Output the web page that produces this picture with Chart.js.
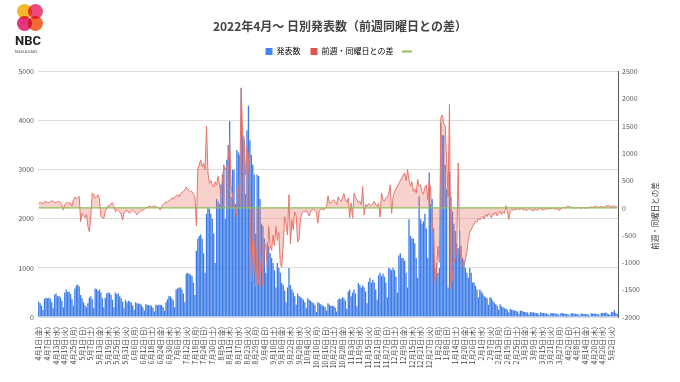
<!DOCTYPE html>
<html><head><meta charset="utf-8">
<script src="https://cdn.jsdelivr.net/npm/chart.js@4.4.1/dist/chart.umd.min.js"></script>
<style>
html,body{margin:0;padding:0;background:#fff;}
#wrap{position:relative;width:680px;height:382px;overflow:hidden;}
#wrap canvas{position:absolute;left:0;top:0;}
.logo{position:absolute;left:14px;top:3px;width:34px;height:50px;}
.c{position:absolute;width:15px;height:15px;border-radius:50%;mix-blend-mode:multiply;}
.nbc{position:absolute;left:1px;top:30px;font:bold 13px Roboto, 'Liberation Sans', sans-serif;color:#222;}
.nag{position:absolute;left:1px;top:46px;font:4px Roboto, sans-serif;color:#444;letter-spacing:0.4px;}
</style></head>
<body>
<div id="wrap">
<canvas id="c" width="680" height="382"></canvas>
<div class="logo">
  <div class="c" style="left:3px;top:1px;background:#F8B62D"></div>
  <div class="c" style="left:14px;top:1px;background:#EC4A7A"></div>
  <div class="c" style="left:3px;top:13px;background:#E4357E"></div>
  <div class="c" style="left:14px;top:13px;background:#F26B35"></div>
  <div class="nbc">NBC</div>
  <div class="nag">NAGASAKI</div>
</div>
</div>
<script>
// ---- data ----
const startDate = [2022, 4, 1];
const weekdayNames = ['日','月','火','水','木','金','土'];
const countLabel = '発表数';
const diffLabel = '前週・同曜日との差';
const counts = [
310,280,230,140,370,390,380,
390,370,300,180,460,480,420,
430,400,330,200,500,560,510,
520,470,360,230,580,640,660,
620,450,380,300,240,200,280,
390,420,360,180,580,570,530,
560,500,380,200,390,480,500,
490,450,350,200,500,470,480,
420,380,310,180,350,300,330,
320,290,240,150,300,280,270,
270,250,200,130,260,250,240,
240,230,190,110,250,240,250,
250,240,200,130,300,360,420,
420,380,340,200,560,580,600,
600,560,480,300,880,900,880,
860,830,700,450,1350,1600,1650,
1680,1600,1300,900,2100,2240,2200,
2100,2000,1700,1100,2400,2350,2300,
2700,2900,3100,2000,3200,3500,3990,
2450,3000,3000,2300,3400,3350,3300,
4650,3700,3620,2500,3800,4300,3600,
3300,3100,2900,1700,2900,2870,2400,
1900,1850,1600,900,1510,1440,1300,
1200,1100,950,600,1100,1000,900,
690,650,540,300,600,1000,650,
560,500,420,250,480,430,400,
380,350,300,180,380,350,330,
300,280,240,100,300,280,260,
240,220,200,130,280,250,230,
230,220,190,110,350,380,360,
400,380,330,170,520,560,420,
500,560,480,220,690,650,600,
640,600,520,280,720,800,700,
760,700,560,350,850,900,830,
880,820,700,400,1000,980,950,
1000,950,820,500,1250,1300,1200,
1200,1150,900,600,1990,1650,1600,
1600,1500,1200,800,2460,1990,1900,
1950,2100,1800,1200,2940,2300,2400,
1800,1000,1100,900,1000,3950,3700,
3700,3100,2600,600,2950,2450,2150,
1900,1750,1500,1400,1750,1450,1200,
1150,1000,900,800,1000,900,700,
700,630,560,400,560,520,480,
420,400,380,250,400,380,330,
290,260,230,150,260,220,200,
180,170,150,90,170,150,140,
130,120,110,60,130,120,110,
100,95,90,50,100,95,90,
85,80,75,40,90,85,80,
75,70,60,35,80,80,75,
70,65,60,30,75,80,70,
65,60,55,30,70,75,70,
65,60,55,30,70,65,60,
60,55,50,25,75,70,65,
70,60,55,30,80,85,80,
90,70,60,40,100,95,135,
80,60
];
const diffs = [
80,100,90,70,110,120,100,90,110,130,
120,100,90,110,120,100,60,-40,60,90,
100,80,90,30,150,200,160,180,210,-250,
-100,-150,-180,-120,-340,-440,-150,270,250,180,
200,240,160,-160,-180,-190,-60,-20,40,30,
80,90,20,-70,-30,-50,-80,-120,-220,-90,
-60,-40,-80,-100,-60,-40,-70,-90,-130,-100,
-70,-40,-50,-20,0,10,20,30,10,20,
40,20,10,0,-40,20,60,90,100,110,
130,150,180,160,200,220,240,200,260,280,
300,330,380,350,320,290,300,250,200,-330,
700,800,880,750,820,700,1500,650,450,500,
420,380,480,420,580,420,270,500,760,700,
760,900,1250,400,200,100,-40,-160,300,500,
2200,1300,1300,600,1130,900,300,-1350,-590,-650,
-1450,-770,-1400,-1200,-900,-1450,-650,-700,-1100,-340,
-700,-780,-500,-700,-340,-600,-450,-1020,-1085,-700,
-160,-300,-500,240,-660,-220,-400,-75,-150,-625,
-590,-200,-100,-60,-80,-40,-100,-150,-60,-40,
-30,-50,-80,-280,-50,-30,-20,-40,-10,20,
220,80,100,120,150,100,60,200,150,120,
180,265,150,100,180,-180,90,-190,270,200,
150,100,120,60,390,-130,60,30,80,50,
40,70,120,60,30,80,-170,270,150,120,
180,200,250,420,-100,200,300,350,400,450,
500,550,600,640,500,700,520,400,480,300,
350,270,520,400,420,300,250,380,420,150,
520,300,-300,-500,-1400,-1200,-700,-1000,1650,1700,
1550,1500,900,200,1900,-1500,-1300,-1000,-900,-800,
820,-700,-1000,-1080,-1050,-950,-800,-600,-450,-400,
-340,-300,-250,-260,-200,-220,-180,-150,-200,-120,
-160,-100,-140,-180,-100,-120,-80,-150,-100,-60,
-120,-80,-100,40,-60,-210,-60,-30,-50,-20,
-40,10,-30,-30,10,-40,-30,-50,-40,-10,
-30,-40,-60,-20,-30,-50,-10,-20,-30,-40,
-10,-30,-20,-10,-20,0,-10,-20,-30,-10,
-50,-20,0,10,-10,20,30,20,10,0,
10,-10,0,10,0,-10,10,0,-10,0,
10,0,20,10,20,30,10,20,10,30,
20,10,30,40,50,20,30,20,40,10,
20
];
const baselineValue = 0;
const leftTicks = {min: 0, max: 5000, step: 1000};
const rightTicks = {min: -2000, max: 2500, step: 500};
const tickEvery = 6;

// categories (dates)
const categories = counts.map((_, i) => {
  const d = new Date(startDate[0], startDate[1]-1, startDate[2] + i);
  return (d.getMonth()+1) + '月' + d.getDate() + '日(' + weekdayNames[d.getDay()] + ')';
});

const FONT = "'Noto Sans CJK JP', 'Noto Sans', sans-serif";
const BLUE = '#3D7CE8', RED = '#E8756B', REDFILL = 'rgba(234,120,110,0.35)', GREEN = '#8CC05A';

const rightTitle = {
  id: 'rightTitle',
  afterDraw(chart) {
    const ctx = chart.ctx;
    ctx.save();
    ctx.translate(655, 216);
    ctx.rotate(-Math.PI/2);
    ctx.font = '7.5px ' + FONT;
    ctx.fillStyle = '#333';
    ctx.textAlign = 'center';
    ctx.textBaseline = 'middle';
    ctx.fillText(diffLabel, 0, 0);
    ctx.restore();
  }
};

const legendSpace = {
  id: 'legendSpace',
  beforeInit(chart) {
    const origFit = chart.legend.fit;
    chart.legend.fit = function() {
      origFit.bind(chart.legend)();
      this.height += 6;
    };
  }
};

new Chart(document.getElementById('c'), {
  data: {
    labels: categories,
    datasets: [
      { type: 'bar', label: countLabel, data: counts, yAxisID: 'y', backgroundColor: BLUE,
        barPercentage: 0.9, categoryPercentage: 1.0, order: 3 },
      { type: 'line', label: diffLabel, data: diffs, yAxisID: 'y1', borderColor: RED, backgroundColor: REDFILL,
        borderWidth: 1, pointRadius: 0, fill: 'origin', tension: 0, order: 2 },
      { type: 'line', label: '', data: [{x: categories[0], y: baselineValue}, {x: categories[categories.length-1], y: baselineValue}],
        yAxisID: 'y1', borderColor: GREEN, borderWidth: 1.2, pointRadius: 0, fill: false, order: 1 }
    ]
  },
  options: {
    responsive: false,
    animation: false,
    devicePixelRatio: 1,
    layout: { padding: { left: 0, right: 0, top: 0, bottom: 0 } },
    plugins: {
      tooltip: { enabled: false },
      title: { display: true, text: '2022年4月～ 日別発表数（前週同曜日との差）', color: '#444',
        font: { family: FONT, size: 12, weight: 'bold' }, padding: { top: 19, bottom: 4 } },
      legend: {
        display: true,
        labels: {
          font: { family: FONT, size: 8 }, color: '#333', usePointStyle: true, boxWidth: 7, boxHeight: 7, padding: 10,
          generateLabels: () => [
            { text: countLabel, fillStyle: '#4285F4', strokeStyle: '#4285F4', lineWidth: 0, pointStyle: 'rect', datasetIndex: 0, hidden: false },
            { text: diffLabel, fillStyle: '#E0554A', strokeStyle: '#E0554A', lineWidth: 0, pointStyle: 'rect', datasetIndex: 1, hidden: false },
            { text: '', fillStyle: GREEN, strokeStyle: GREEN, lineWidth: 2, pointStyle: 'line', datasetIndex: 2, hidden: false }
          ]
        }
      }
    },
    scales: {
      x: {
        type: 'category',
        grid: { display: false },
        border: { display: false },
        afterFit: s => { s.height = 65; },
        ticks: {
          autoSkip: false, maxRotation: 90, minRotation: 90, padding: 2,
          font: { family: FONT, size: 7 }, color: '#444',
          callback: function(v, i) { return i % tickEvery === 0 ? this.getLabelForValue(v) : null; }
        }
      },
      y: {
        position: 'left', min: leftTicks.min, max: leftTicks.max,
        afterFit: s => { s.width = 38; },
        grid: { color: '#dcdcdc', lineWidth: 1, drawTicks: false },
        border: { display: false },
        ticks: { stepSize: leftTicks.step, font: { family: FONT, size: 7 }, color: '#555', padding: 4,
          callback: v => String(v) }
      },
      y1: {
        position: 'right', min: rightTicks.min, max: rightTicks.max,
        afterFit: s => { s.width = 62; },
        grid: { display: false, drawTicks: false },
        border: { display: true, color: '#555', width: 1 },
        ticks: { stepSize: rightTicks.step, font: { family: FONT, size: 7 }, color: '#555', padding: 4,
          callback: v => String(v) }
      }
    }
  },
  plugins: [rightTitle, legendSpace]
});
</script>
</body></html>
